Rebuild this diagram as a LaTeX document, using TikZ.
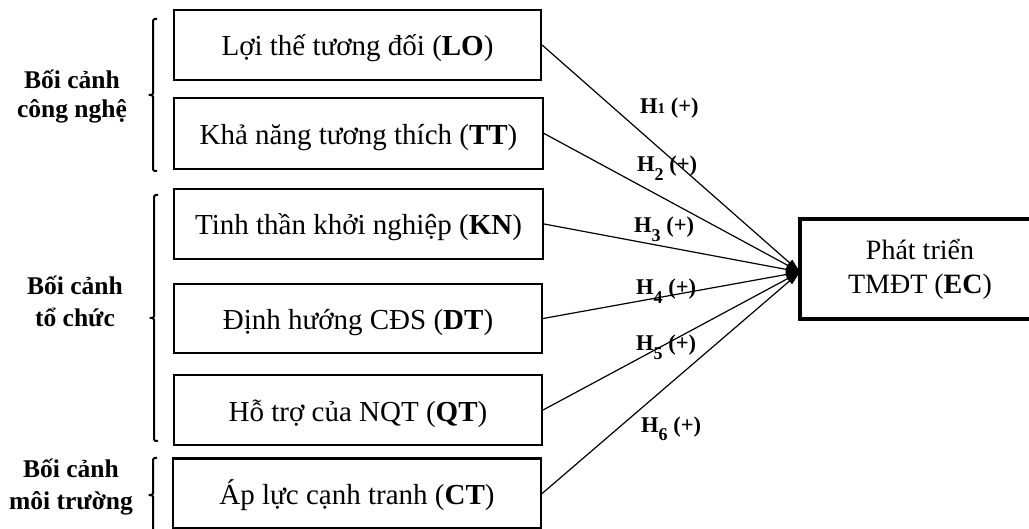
\documentclass[tikz,border=0pt]{standalone}
\usepackage{fontspec}
\setmainfont{Liberation Serif}
\usetikzlibrary{arrows.meta}
% subscript of a hypothesis label: #1 digit, #2 size, #3 vertical shift
\newcommand\hypsub[3]{\raisebox{#3}{\fontsize{#2}{#2}\selectfont #1}}
\begin{document}
\begin{tikzpicture}[x=1pt,y=-1pt,
  factor/.style={draw,line width=2.2pt,inner sep=0pt,
    text height=24pt,text depth=2pt,
    font=\fontsize{29}{34}\selectfont},
  outcome/.style={draw,line width=3.2pt,inner sep=0pt,align=center,
    minimum width=240pt,minimum height=100pt,
    font=\fontsize{28}{34}\selectfont},
  context/.style={align=center,inner sep=0pt,
    font=\fontsize{25.5}{32.5}\selectfont\bfseries},
  hyp/.style={inner sep=0pt,anchor=base west,
    font=\fontsize{22.5}{22.5}\selectfont\bfseries},
  bracket/.style={line width=2pt,rounded corners=1.5pt},
  conn/.style={line width=1.2pt,-{Triangle[length=14pt,width=8pt]}}
]
\clip (0,0) rectangle (1029,529);
\useasboundingbox (0,0) rectangle (1029,529);

% antecedent factors
\node[factor,minimum width=367pt,minimum height=70pt] (lo) at (357.5,45)
  {Lợi thế tương đối (\textbf{LO})};
\node[factor,minimum width=369pt,minimum height=71pt] (tt) at (358.5,133.5)
  {Khả năng tương thích (\textbf{TT})};
\node[factor,minimum width=369pt,minimum height=70pt] (kn) at (358.5,224)
  {Tinh thần khởi nghiệp (\textbf{KN})};
\node[factor,minimum width=368pt,minimum height=69pt] (dt) at (358,318.5)
  {Định hướng CĐS (\textbf{DT})};
\node[factor,minimum width=368pt,minimum height=70pt] (qt) at (358,410)
  {Hỗ trợ của NQT (\textbf{QT})};
\node[factor,minimum width=368pt,minimum height=70pt] (ct) at (357,493.5)
  {Áp lực cạnh tranh (\textbf{CT})};

% outcome
\node[outcome] (ec) at (920,269) {Phát triển\\TMĐT (\textbf{EC})};
\coordinate (tip) at (800,272);

% context groups
\node[context,font=\fontsize{25.5}{29}\selectfont\bfseries] (tech) at (72,96.5)
  {Bối cảnh\\công nghệ};
\node[context] (org) at (75,301.5) {Bối cảnh\\tổ chức};
\node[context] (env) at (71,487) {Bối cảnh\\môi trường};

\draw[bracket] (157,19) -- (153,19) -- (153,95) -- (147,95) -- (153,95)
  -- (153,171) -- (157,171);
\draw[bracket] (158,195) -- (154,195) -- (154,318) -- (148,318) -- (154,318)
  -- (154,441) -- (158,441);
\draw[bracket] (157,458) -- (153,458) -- (153,495) -- (147,495) -- (153,495)
  -- (153,540);

% hypothesised paths
\draw[conn] (lo.east) -- (tip);
\draw[conn] (tt.east) -- (tip);
\draw[conn] (kn.east) -- (tip);
\draw[conn] (dt.east) -- (tip);
\draw[conn] (qt.east) -- (tip);
\draw[conn] (ct.east) -- (tip);

\node[hyp] (h1) at (640,114) {H\hypsub{1}{15}{0pt} (+)};
\node[hyp] (h2) at (637,172) {H\hypsub{2}{18}{-9pt} (+)};
\node[hyp] (h3) at (634,233) {H\hypsub{3}{18}{-9pt} (+)};
\node[hyp] (h4) at (636,295) {H\hypsub{4}{18}{-9pt} (+)};
\node[hyp] (h5) at (636,351) {H\hypsub{5}{18}{-9pt} (+)};
\node[hyp] (h6) at (641,432) {H\hypsub{6}{18}{-9pt} (+)};
\end{tikzpicture}
\end{document}
